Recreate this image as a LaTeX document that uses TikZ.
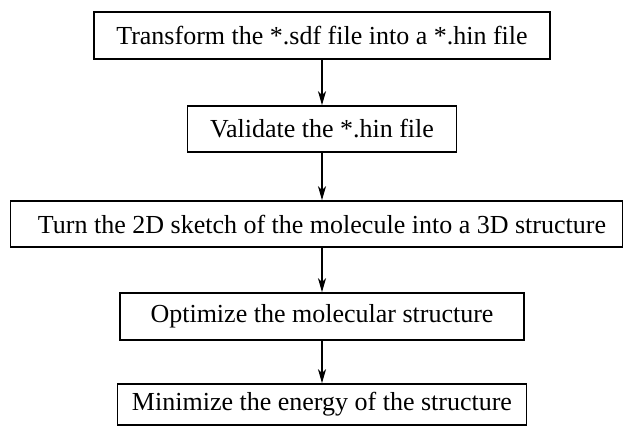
\documentclass[tikz,border=0pt]{standalone}
\usepackage{fontspec}
\setmainfont{Liberation Serif}
\usetikzlibrary{arrows.meta}
\begin{document}
\begin{tikzpicture}[x=1pt,y=1pt,
  box/.style={draw=black, line width=1.6pt, inner sep=0pt, fill=white},
  lbl/.style={inner sep=0pt, font=\fontsize{26}{30}\selectfont},
  arr/.style={line width=1.2pt, -{Stealth[length=14pt, width=8pt, inset=4pt]}}]
\useasboundingbox (0,0) rectangle (624,426);
\node[box, minimum width=456, minimum height=47] (b1) at (322,390.5) {};
\node[lbl] (t1) at (b1.center) {Transform the *.sdf file into a *.hin file};
\node[box, minimum width=269, minimum height=46] (b2) at (322,297) {};
\node[lbl] (t2) at (b2.center) {Validate the *.hin file};
\node[box, minimum width=612, minimum height=46] (b3) at (316.5,202) {};
\node[lbl] (t3) at (322,202) {Turn the 2D sketch of the molecule into a 3D structure};
\node[box, minimum width=404, minimum height=47] (b4) at (322,109.5) {};
\node[lbl] (t4) at (b4.center) {Optimize the molecular structure};
\node[box, minimum width=409, minimum height=41] (b5) at (322,21.5) {};
\node[lbl] (t5) at (b5.center) {Minimize the energy of the structure};
\draw[arr] (b1.south) -- (b2.north);
\draw[arr] (b2.south) -- (b2.south |- b3.north);
\draw[arr] (b2.south |- b3.south) -- (b4.north);
\draw[arr] (b4.south) -- (b5.north);
\end{tikzpicture}
\end{document}
